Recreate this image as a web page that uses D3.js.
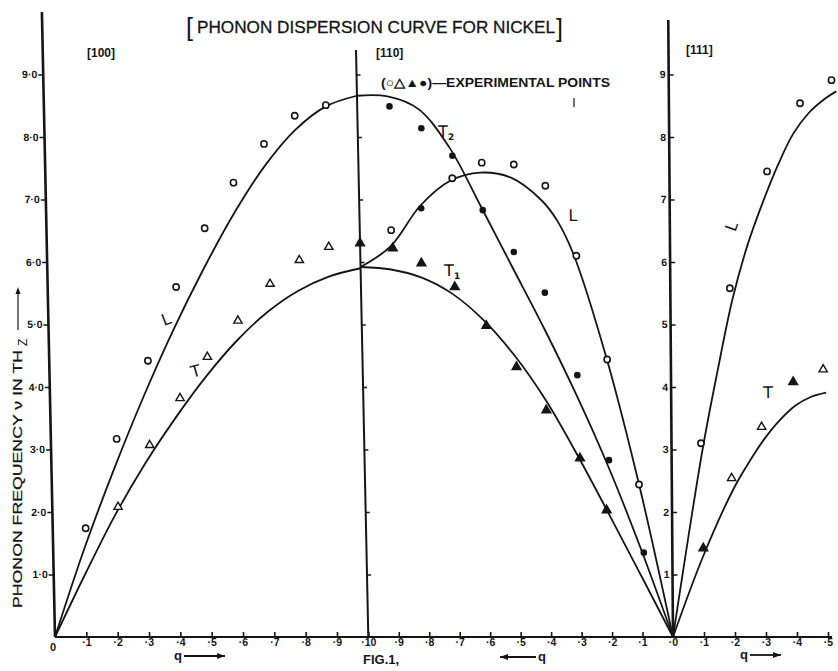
<!DOCTYPE html>
<html>
<head>
<meta charset="utf-8">
<script src="https://cdn.jsdelivr.net/npm/d3@7"></script>
<style>
  body { margin: 0; background: #fff; }
  svg { display: block; }
  text { font-family: "Liberation Sans", Arial, sans-serif; fill: #151515; }
</style>
</head>
<body>
<div id="chart"></div>
<script>
// Phonon dispersion of nickel (frequency in THz)
const qGrid = [0, 0.1, 0.2, 0.3, 0.4, 0.5, 0.6, 0.7, 0.8, 0.9, 1.0];

// [100] branches
const l100 = [0, 1.42, 2.69, 3.86, 4.93, 5.9, 6.78, 7.53, 8.11, 8.49, 8.66];
const t100 = [0, 1.0, 1.95, 2.78, 3.51, 4.17, 4.74, 5.2, 5.54, 5.77, 5.9];

// [110] branches (q runs from 1.0 at the centre line back to 0)
const t2110 = [0, 1.42, 2.72, 3.87, 4.92, 5.9, 6.88, 7.83, 8.45, 8.65, 8.66];
const q110L = [0, 0.1, 0.2, 0.3, 0.35, 0.4, 0.5, 0.6, 0.7, 0.8, 0.9, 1.0];
const l110 = [0, 2.42, 4.48, 6.12, 6.65, 6.98, 7.35, 7.43, 7.3, 6.9, 6.25, 5.92];
const t1110 = [0, 0.98, 1.95, 2.9, 3.78, 4.5, 5.07, 5.49, 5.75, 5.88, 5.92];

// [111] branches
const q111L = [0, 0.1, 0.15, 0.2, 0.25, 0.3, 0.35, 0.4, 0.45, 0.5, 0.54];
const l111 = [0, 3.0, 4.25, 5.4, 6.27, 6.95, 7.55, 8.05, 8.38, 8.6, 8.73];
const q111T = [0, 0.1, 0.2, 0.25, 0.3, 0.35, 0.4, 0.45, 0.5];
const t111 = [0, 1.3, 2.38, 2.8, 3.17, 3.47, 3.7, 3.84, 3.91];

// experimental points [q, nu]
const circles100 = [[0.105, 1.74], [0.21, 3.17], [0.315, 4.42], [0.41, 5.6], [0.505, 6.54], [0.6, 7.27], [0.7, 7.89], [0.8, 8.34], [0.9, 8.51]];
const triangles100 = [[0.21, 2.08], [0.315, 3.07], [0.415, 3.82], [0.505, 4.48], [0.605, 5.06], [0.71, 5.65], [0.805, 6.03], [0.9, 6.24]];
const circles110 = [[0.897, 6.51], [0.693, 7.34], [0.595, 7.59], [0.49, 7.56], [0.388, 7.22], [0.291, 6.1], [0.197, 4.44], [0.101, 2.44]];
const dots110 = [[0.894, 8.49], [0.791, 8.14], [0.691, 7.7], [0.595, 6.83], [0.496, 6.16], [0.397, 5.51], [0.296, 4.19], [0.198, 2.83], [0.09, 1.35], [0.797, 6.86]];
const solidTriangles110 = [[1.0, 6.3], [0.893, 6.22], [0.8, 5.98], [0.692, 5.6], [0.591, 4.98], [0.495, 4.32], [0.4, 3.63], [0.293, 2.86], [0.209, 2.03]];
const circles111 = [[0.095, 3.1], [0.192, 5.58], [0.315, 7.45], [0.423, 8.54], [0.525, 8.91]];
const triangles111 = [[0.193, 2.54], [0.291, 3.36], [0.491, 4.28]];
const solidTriangles111 = [[0.1, 1.42], [0.394, 4.08]];

// tick labels
const freqTicks = [1, 2, 3, 4, 5, 6, 7, 8, 9];
const q100Ticks = [0.1, 0.2, 0.3, 0.4, 0.5, 0.6, 0.7, 0.8, 0.9];
const q110Ticks = [1.0, 0.9, 0.8, 0.7, 0.6, 0.5, 0.4, 0.3, 0.2, 0.1, 0];
const q111Ticks = [0.1, 0.2, 0.3, 0.4, 0.5];

const width = 838;
const height = 671;
const ink = '#151515';

const svg = d3.select('#chart')
  .append('svg')
    .attr('width', width)
    .attr('height', height)
    .attr('viewBox', [0, 0, width, height]);

svg.append('rect').attr('width', width).attr('height', height).attr('fill', '#fff');

const y = d3.scaleLinear().domain([0, 9]).range([637, 74.5]);
const x100 = d3.scaleLinear().domain([0, 1]).range([55, 368.3]);
const x110 = d3.scaleLinear().domain([1, 0]).range([368.3, 673]);
const x111 = d3.scaleLinear().domain([0, 0.5]).range([673, 828]);

// the scanned sheet leans a little, so shear each part about the baseline
const lean = deg => `translate(0,${y(0)}) skewX(${deg}) translate(0,${-y(0)})`;
const gLeft = svg.append('g').attr('transform', lean(1.2));
const gRight = svg.append('g').attr('transform', lean(0.44));

const zip = (qs, fs) => qs.map((q, i) => [q, fs[i]]);
const curve = xs => d3.line()
  .x(d => xs(d[0]))
  .y(d => y(d[1]))
  .curve(d3.curveCatmullRom.alpha(0.5));

function drawCurve(g, xs, data) {
  g.append('path')
    .datum(data)
    .attr('d', curve(xs))
    .attr('fill', 'none')
    .attr('stroke', ink)
    .attr('stroke-width', 1.8);
}

drawCurve(gLeft, x100, zip(qGrid, l100));
drawCurve(gLeft, x100, zip(qGrid, t100));
drawCurve(gLeft, x110, zip(qGrid, t2110));
drawCurve(gLeft, x110, zip(q110L, l110));
drawCurve(gLeft, x110, zip(qGrid, t1110));
drawCurve(gRight, x111, zip(q111L, l111));
drawCurve(gRight, x111, zip(q111T, t111));

// axes lines
gLeft.append('line')
  .attr('x1', x100(0)).attr('x2', x100(0))
  .attr('y1', 12).attr('y2', y(0))
  .attr('stroke', ink).attr('stroke-width', 2.6);
gLeft.append('line')
  .attr('x1', x100(1)).attr('x2', x100(1))
  .attr('y1', 50).attr('y2', y(0))
  .attr('stroke', ink).attr('stroke-width', 2);
gRight.append('line')
  .attr('x1', x111(0)).attr('x2', x111(0))
  .attr('y1', 20).attr('y2', y(0))
  .attr('stroke', ink).attr('stroke-width', 2.6);
svg.append('line')
  .attr('x1', x100(0)).attr('x2', x111(0.5) + 4)
  .attr('y1', y(0)).attr('y2', y(0))
  .attr('stroke', ink).attr('stroke-width', 2.2);

function styleAxis(g, size) {
  g.select('.domain').remove();
  g.selectAll('.tick line').attr('stroke', ink).attr('stroke-width', 1.6);
  g.selectAll('.tick text')
    .attr('fill', ink)
    .style('font-family', '"Liberation Sans", Arial, sans-serif')
    .style('font-size', size + 'px')
    .style('font-weight', 'bold');
}

gLeft.append('g')
  .attr('transform', `translate(${x100(0)},0)`)
  .call(d3.axisLeft(y).tickValues(freqTicks).tickSize(5).tickPadding(1)
    .tickFormat(d => d + '·0'))
  .call(g => styleAxis(g, 10.5));

gLeft.append('g')
  .attr('transform', `translate(${x100(1)},0)`)
  .call(d3.axisRight(y).tickValues(freqTicks).tickSize(4).tickFormat(''))
  .call(g => styleAxis(g, 10));

gRight.append('g')
  .attr('transform', `translate(${x111(0)},0)`)
  .call(d3.axisLeft(y).tickValues(freqTicks).tickSize(-5).tickPadding(3)
    .tickFormat(d => d))
  .call(g => styleAxis(g, 10.5));

const qFormat = d => d === 1 ? '·10' : '·' + Math.round(d * 10);
[[x100, q100Ticks], [x110, q110Ticks], [x111, q111Ticks]].forEach(([xs, ticks]) => {
  svg.append('g')
    .attr('transform', `translate(0,${y(0)})`)
    .call(d3.axisBottom(xs).tickValues(ticks).tickSize(-5).tickPadding(2).tickFormat(qFormat))
    .call(g => styleAxis(g, 10.5));
});
svg.append('text')
  .attr('x', x100(0) - 2).attr('y', y(0) + 14)
  .attr('text-anchor', 'middle')
  .style('font-size', '11px').style('font-weight', 'bold')
  .text('0');

// experimental points
function drawCircles(g, xs, data) {
  g.selectAll(null).data(data).join('circle')
    .attr('cx', d => xs(d[0])).attr('cy', d => y(d[1]))
    .attr('r', 3.1)
    .attr('fill', '#fff').attr('stroke', ink).attr('stroke-width', 1.6);
}
function drawDots(g, xs, data) {
  g.selectAll(null).data(data).join('circle')
    .attr('cx', d => xs(d[0])).attr('cy', d => y(d[1]))
    .attr('r', 3.3)
    .attr('fill', ink);
}
function drawTriangles(g, xs, data, solid) {
  g.selectAll(null).data(data).join('path')
    .attr('transform', d => `translate(${xs(d[0])},${y(d[1])})`)
    .attr('d', d3.symbol(d3.symbolTriangle).size(solid ? 34 : 30))
    .attr('fill', solid ? ink : '#fff')
    .attr('stroke', ink).attr('stroke-width', 1.4);
}

drawCircles(gLeft, x100, circles100);
drawTriangles(gLeft, x100, triangles100, false);
drawCircles(gLeft, x110, circles110);
drawDots(gLeft, x110, dots110);
drawTriangles(gLeft, x110, solidTriangles110, true);
drawCircles(gRight, x111, circles111);
drawTriangles(gRight, x111, triangles111, false);
drawTriangles(gRight, x111, solidTriangles111, true);

// branch labels
function branchLabel(g, xs, q, f, main, sub, angle) {
  const t = g.append('text')
    .attr('transform', `translate(${xs(q)},${y(f)}) rotate(${angle})`)
    .attr('text-anchor', 'middle')
    .style('font-family', '"DejaVu Sans", sans-serif')
    .style('font-size', '16px');
  t.append('tspan').text(main);
  if (sub) {
    t.append('tspan').attr('dy', 3).style('font-size', '9px').style('font-weight', 'bold').text(sub);
  }
}
branchLabel(gLeft, x100, 0.382, 5.0, 'L', null, -20);
branchLabel(gLeft, x100, 0.471, 4.17, 'T', null, -15);
branchLabel(gLeft, x110, 0.71, 8.0, 'T', '2', 0);
branchLabel(gLeft, x110, 0.3, 6.65, 'L', null, 0);
branchLabel(gLeft, x110, 0.7, 5.77, 'T', '1', 0);
branchLabel(gRight, x111, 0.216, 6.54, 'L', null, -70);
branchLabel(gRight, x111, 0.313, 3.82, 'T', null, 0);

// headings
svg.append('text')
  .attr('x', 197).attr('y', 33)
  .attr('textLength', 358).attr('lengthAdjust', 'spacingAndGlyphs')
  .style('font-size', '16px')
  .attr('stroke', ink).attr('stroke-width', 0.3)
  .text('PHONON DISPERSION CURVE FOR NICKEL');
svg.append('text').attr('x', 186).attr('y', 36).style('font-size', '25px').text('[');
svg.append('text').attr('x', 556).attr('y', 37).style('font-size', '25px').text(']');

svg.append('text').attr('x', 87).attr('y', 57).style('font-size', '12px').style('font-weight', 'bold').text('[100]');
svg.append('text').attr('x', 376).attr('y', 57).style('font-size', '12px').style('font-weight', 'bold').text('[110]');
svg.append('text').attr('x', 686).attr('y', 54).style('font-size', '12px').style('font-weight', 'bold').text('[111]');

svg.append('text')
  .attr('x', 381).attr('y', 87)
  .attr('textLength', 229).attr('lengthAdjust', 'spacingAndGlyphs')
  .style('font-size', '12.5px').style('font-weight', 'bold')
  .text('(○△▲●)—EXPERIMENTAL POINTS');
svg.append('line')
  .attr('x1', 574).attr('x2', 574).attr('y1', 98).attr('y2', 107)
  .attr('stroke', ink).attr('stroke-width', 1.2);

// frequency label with arrow
svg.append('text')
  .attr('transform', 'translate(22,608) rotate(-90)')
  .attr('textLength', 258).attr('lengthAdjust', 'spacingAndGlyphs')
  .style('font-size', '12.5px')
  .attr('stroke', ink).attr('stroke-width', 0.25)
  .text('PHONON FREQUENCY ν IN TH');
svg.append('text')
  .attr('transform', 'translate(27,346) rotate(-90)')
  .style('font-size', '12px')
  .text('Z');
svg.append('line')
  .attr('x1', 18).attr('x2', 18).attr('y1', 330).attr('y2', 292)
  .attr('stroke', ink).attr('stroke-width', 1.2);
svg.append('path')
  .attr('d', 'M18,287 L15.5,294 L20.5,294 Z')
  .attr('fill', ink);

// q arrows and figure number
function qArrow(xq, xa1, xa2, yy, head) {
  svg.append('text').attr('x', xq).attr('y', yy + 4)
    .attr('text-anchor', 'middle')
    .style('font-size', '13px').style('font-weight', 'bold').text('q');
  svg.append('line').attr('x1', xa1).attr('x2', xa2).attr('y1', yy).attr('y2', yy)
    .attr('stroke', ink).attr('stroke-width', 1.8);
  const dir = head > xa1 ? -1 : 1;
  svg.append('path')
    .attr('d', `M${head},${yy} L${head + dir * 8},${yy - 3} L${head + dir * 8},${yy + 3} Z`)
    .attr('fill', ink);
}
qArrow(178, 184, 225, 656, 225);
qArrow(542, 500, 536, 657, 500);
qArrow(744, 750, 781, 655, 781);

svg.append('text')
  .attr('x', 363).attr('y', 664)
  .style('font-size', '13px').style('font-weight', 'bold')
  .text('FIG.1,');
</script>
</body>
</html>
